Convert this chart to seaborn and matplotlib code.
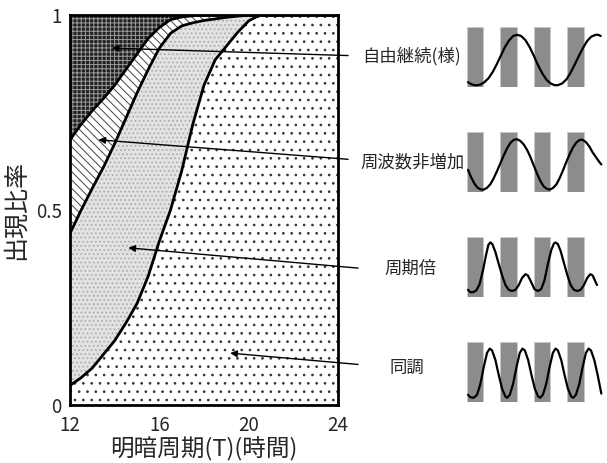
import numpy as np
import pandas as pd
import seaborn as sns
import matplotlib.pyplot as plt

# light-dark period (hours) and boundaries between the four response types
period = [12, 12.5, 13, 13.5, 14, 14.5, 15, 15.5, 16, 16.5, 17, 17.5, 18,
          18.5, 19, 19.5, 20, 20.5, 21, 24]
# upper edge of 周波数非増加 (= lower edge of 自由継続(様))
free_run_edge = [0.68, 0.72, 0.755, 0.786, 0.82, 0.86, 0.90, 0.94, 0.968, 0.988,
                 0.995, 0.998, 1.0, 1.0, 1.0, 1.0, 1.0, 1.0, 1.0, 1.0]
# upper edge of 周期倍
non_increase_edge = [0.44, 0.50, 0.556, 0.61, 0.67, 0.735, 0.80, 0.86, 0.915, 0.953,
                     0.972, 0.98, 0.986, 0.99, 0.994, 0.997, 1.0, 1.0, 1.0, 1.0]
# upper edge of 同調
entrain_edge = [0.05, 0.07, 0.095, 0.13, 0.165, 0.21, 0.26, 0.33, 0.42, 0.50,
                0.60, 0.72, 0.82, 0.885, 0.92, 0.955, 0.985, 1.0, 1.0, 1.0]

labels = ["自由継続(様)", "周波数非増加", "周期倍", "同調"]
x_ticks = [12, 16, 20, 24]
y_ticks = [0, 0.5, 1]
y_tick_labels = ["0", "0.5", "1"]

# waveform sketches, x in light-dark cycles, y relative to bar height
wave1_x = [0.03, 0.12, 0.22, 0.30, 0.40, 0.52, 0.65, 0.78, 0.90, 1.02, 1.13, 1.25,
           1.38, 1.50, 1.62, 1.75, 1.88, 2.00, 2.12, 2.25, 2.38, 2.50, 2.62, 2.72,
           2.85, 2.98, 3.10, 3.22, 3.35, 3.48, 3.60, 3.72, 3.85, 3.93, 4.00]
wave1_y = [0.08, 0.05, 0.03, 0.03, 0.04, 0.08, 0.15, 0.26, 0.39, 0.53, 0.66, 0.77,
           0.85, 0.87, 0.85, 0.78, 0.66, 0.52, 0.37, 0.23, 0.12, 0.06, 0.03, 0.03,
           0.06, 0.13, 0.24, 0.37, 0.52, 0.66, 0.77, 0.84, 0.87, 0.87, 0.85]
wave2_x = [0.03, 0.12, 0.22, 0.32, 0.42, 0.50, 0.60, 0.70, 0.80, 0.90, 1.00, 1.10,
           1.20, 1.30, 1.40, 1.50, 1.60, 1.70, 1.80, 1.90, 2.00, 2.10, 2.20, 2.30,
           2.40, 2.48, 2.58, 2.68, 2.78, 2.88, 2.98, 3.08, 3.18, 3.28, 3.38, 3.46,
           3.56, 3.66, 3.76, 3.86, 3.96, 4.02]
wave2_y = [0.37, 0.25, 0.14, 0.07, 0.04, 0.04, 0.07, 0.13, 0.23, 0.35, 0.48, 0.61,
           0.73, 0.82, 0.87, 0.88, 0.85, 0.79, 0.70, 0.58, 0.44, 0.30, 0.18, 0.09,
           0.05, 0.04, 0.07, 0.13, 0.24, 0.37, 0.51, 0.64, 0.75, 0.83, 0.87, 0.87,
           0.83, 0.76, 0.66, 0.58, 0.50, 0.46]
wave3_x = [0.03, 0.10, 0.18, 0.28, 0.38, 0.48, 0.57, 0.64, 0.70, 0.76, 0.85, 0.95,
           1.05, 1.15, 1.25, 1.35, 1.45, 1.55, 1.65, 1.75, 1.82, 1.92, 2.02, 2.12,
           2.22, 2.32, 2.42, 2.52, 2.60, 2.65, 2.72, 2.80, 2.90, 3.00, 3.10, 3.20,
           3.30, 3.40, 3.50, 3.60, 3.69, 3.76, 3.84, 3.89]
wave3_y = [0.12, 0.08, 0.08, 0.11, 0.22, 0.45, 0.70, 0.87, 0.91, 0.88, 0.75, 0.55,
           0.36, 0.20, 0.12, 0.10, 0.12, 0.20, 0.32, 0.38, 0.36, 0.25, 0.13, 0.10,
           0.13, 0.28, 0.55, 0.78, 0.89, 0.91, 0.88, 0.77, 0.57, 0.37, 0.20, 0.12,
           0.10, 0.12, 0.20, 0.32, 0.38, 0.36, 0.26, 0.20]
wave4_x = [0.03, 0.10, 0.20, 0.30, 0.40, 0.50, 0.60, 0.68, 0.75, 0.85, 0.95, 1.05,
           1.15, 1.20, 1.28, 1.38, 1.48, 1.58, 1.66, 1.73, 1.83, 1.93, 2.03, 2.13,
           2.19, 2.27, 2.37, 2.47, 2.57, 2.65, 2.72, 2.82, 2.92, 3.02, 3.12, 3.18,
           3.26, 3.36, 3.46, 3.56, 3.64, 3.71, 3.81, 3.91, 4.02]
wave4_y = [0.12, 0.08, 0.07, 0.12, 0.30, 0.58, 0.82, 0.89, 0.86, 0.70, 0.45, 0.22,
           0.09, 0.07, 0.12, 0.30, 0.58, 0.82, 0.89, 0.86, 0.70, 0.45, 0.22, 0.09,
           0.07, 0.12, 0.30, 0.58, 0.82, 0.89, 0.86, 0.70, 0.45, 0.22, 0.09, 0.07,
           0.12, 0.30, 0.58, 0.82, 0.89, 0.86, 0.70, 0.45, 0.14]
dark_starts = [0, 1, 2, 3]

df = pd.DataFrame({"T": period, "a": free_run_edge, "b": non_increase_edge,
                   "c": entrain_edge})

sns.set_style("white")
plt.rcParams['font.family'] = ['Noto Sans CJK JP', 'DejaVu Sans']
plt.rcParams['hatch.linewidth'] = 0.7

fig = plt.figure(figsize=(6.07, 4.63), dpi=100)
ax = fig.add_axes([70 / 607, 58 / 463, 268 / 607, 390 / 463])

# filled regions, top to bottom
ax.fill_between(df["T"], df["a"], 1, facecolor="#222222", edgecolor="#9a9a9a",
                hatch="++++", linewidth=0)
ax.fill_between(df["T"], df["b"], df["a"], facecolor="white", edgecolor="#444444",
                hatch="\\\\\\\\", linewidth=0)
ax.fill_between(df["T"], df["c"], df["b"], facecolor="#e2e2e2", edgecolor="#a8a8a8",
                hatch="....", linewidth=0)
ax.fill_between(df["T"], 0, df["c"], facecolor="white", edgecolor="#333333",
                hatch="..", linewidth=0)

for col in ["a", "b", "c"]:
    sns.lineplot(data=df, x="T", y=col, ax=ax, color="black", lw=2)

ax.set_xlim(12, 24)
ax.set_ylim(0, 1)
ax.set_xticks(x_ticks)
ax.set_yticks(y_ticks)
ax.set_yticklabels(y_tick_labels)
ax.tick_params(labelsize=13.5, length=0)
ax.tick_params(axis="x", pad=7)
ax.tick_params(axis="y", pad=6)
ax.set_xlabel("明暗周期(T)(時間)", fontsize=17, labelpad=1)
ax.set_ylabel("出現比率", fontsize=18)
ax.yaxis.set_label_coords(-0.155, 0.5)
for s in ax.spines.values():
    s.set_visible(True)
    s.set_color("black")
    s.set_linewidth(2)

# arrows and labels
heads = [(13.87, 0.915), (13.27, 0.68), (14.61, 0.403), (19.17, 0.133)]
tails = [(24.45, 0.896), (24.45, 0.63), (24.9, 0.351), (24.9, 0.104)]
label_pos = [(25.1, 0.894), (25.0, 0.622), (26.1, 0.348), (26.3, 0.095)]
for lab, h, t, p in zip(labels, heads, tails, label_pos):
    ax.annotate("", xy=h, xytext=t, annotation_clip=False,
                arrowprops=dict(arrowstyle="-|>", color="black", lw=1,
                                mutation_scale=10, shrinkA=0, shrinkB=0))
    ax.text(p[0], p[1], lab, fontsize=12.5, ha="left", va="center", clip_on=False)

# waveform icons
waves = [(wave1_x, wave1_y), (wave2_x, wave2_y), (wave3_x, wave3_y), (wave4_x, wave4_y)]
icon_tops = [27, 132, 237, 342]
for (wx, wy), top in zip(waves, icon_tops):
    iax = fig.add_axes([467 / 607, (463 - top - 60) / 463, 137 / 607, 60 / 463])
    for d in dark_starts:
        iax.axvspan(d, d + 0.49, color="#8c8c8c", ec="#c8c8c8", lw=0.6)
    sns.lineplot(x=wx, y=wy, ax=iax, color="black", lw=1.6, sort=False,
                 clip_on=False)
    iax.set_xlim(0, 4.1)
    iax.set_ylim(0, 1)
    iax.axis("off")

fig.savefig("out.png", dpi=100)
